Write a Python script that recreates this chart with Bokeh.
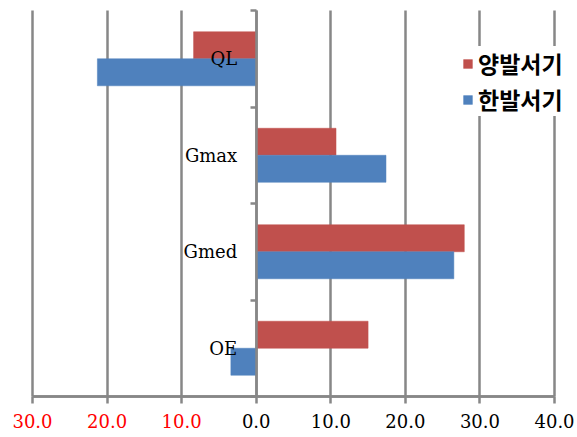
from bokeh.plotting import figure
from bokeh.models import (ColumnDataSource, LinearAxis, FixedTicker, Grid, Range1d,
                          Legend, LegendItem)
from bokeh.transform import dodge
from bokeh.embed import file_html
from bokeh.resources import INLINE

# ---- data ----
categories = ["OE", "Gmed", "Gmax", "QL"]
both_feet = [15.0, 27.9, 10.7, -8.4]      # 양발서기
one_foot = [-3.4, 26.5, 17.4, -21.3]      # 한발서기
series_names = ["양발서기", "한발서기"]
pos_ticks = [0, 10, 20, 30, 40]
neg_ticks = [-30, -20, -10]

RED = "#C0504D"
BLUE = "#4F81BD"
GREY = "#878787"
SERIF = "DejaVu Serif"

idx = list(range(len(categories)))
src = ColumnDataSource(dict(y=idx, both=both_feet, one=one_foot))

x_lo, x_hi = neg_ticks[0], pos_ticks[-1]
y_lo, y_hi = -0.5, len(categories) - 0.5

p = figure(width=577, height=437, output_backend="svg", toolbar_location=None,
           x_axis_location=None, y_axis_location=None,
           x_range=Range1d(-34.29, 43.08), y_range=Range1d(-0.925, 3.604),
           min_border_left=0, min_border_right=0, min_border_top=0, min_border_bottom=0)
p.outline_line_color = None
p.background_fill_color = "white"
for g in list(p.xgrid) + list(p.ygrid):
    g.visible = False

# vertical gridlines, limited to the plot area
grid = Grid(dimension=0, ticker=FixedTicker(ticks=neg_ticks + pos_ticks),
            grid_line_color=GREY, grid_line_width=2.5, cross_bounds=(y_lo, y_hi))
p.add_layout(grid)

bw = 0.28
r1 = p.hbar(y=dodge("y", bw / 2, range=p.y_range), right="both", left=0, height=bw,
            source=src, fill_color=RED, line_color=RED, line_width=0.5)
r2 = p.hbar(y=dodge("y", -bw / 2, range=p.y_range), right="one", left=0, height=bw,
            source=src, fill_color=BLUE, line_color=BLUE, line_width=0.5)

# bottom axes (black positive labels, red negative labels shown as absolute values)
def make_xaxis(ticks, color):
    ax = LinearAxis(ticker=FixedTicker(ticks=ticks),
                    major_label_overrides={t: f"{abs(t):.1f}" for t in ticks},
                    fixed_location=y_lo, bounds=(x_lo, x_hi))
    ax.axis_line_color = GREY
    ax.axis_line_width = 2.5
    ax.major_tick_line_color = GREY
    ax.major_tick_line_width = 2.5
    ax.major_tick_out = 7
    ax.major_tick_in = 0
    ax.minor_tick_line_color = None
    ax.major_label_text_font = SERIF
    ax.major_label_text_font_size = "18px"
    ax.major_label_text_color = color
    ax.major_label_standoff = 11
    return ax

p.add_layout(make_xaxis(pos_ticks, "black"), "below")
p.add_layout(make_xaxis(neg_ticks, "#FF0000"), "below")

# category axis crossing at x = 0
yax = LinearAxis(ticker=FixedTicker(ticks=idx, minor_ticks=[i - 0.5 for i in idx] + [len(idx) - 0.5]),
                 major_label_overrides={i: c for i, c in zip(idx, categories)},
                 fixed_location=0, bounds=(y_lo, y_hi))
yax.axis_line_color = GREY
yax.axis_line_width = 2.5
yax.major_tick_line_color = None
yax.major_tick_out = 0
yax.major_tick_in = 0
yax.minor_tick_line_color = GREY
yax.minor_tick_line_width = 2.5
yax.minor_tick_out = 6
yax.minor_tick_in = 0
yax.major_label_text_font = SERIF
yax.major_label_text_font_size = "18px"
yax.major_label_text_color = "black"
yax.major_label_standoff = 13
p.add_layout(yax, "left")

legend = Legend(items=[LegendItem(label=series_names[0], renderers=[r1]),
                       LegendItem(label=series_names[1], renderers=[r2])],
                location=(462, 321), orientation="vertical")
legend.label_text_font = "Noto Sans CJK KR"
legend.label_text_font_style = "bold"
legend.label_text_font_size = "23px"
legend.label_text_color = "black"
legend.glyph_width = 11
legend.glyph_height = 11
legend.label_height = 25
legend.label_standoff = 5
legend.spacing = 2
legend.padding = 6
legend.margin = 0
legend.border_line_color = None
legend.background_fill_color = "white"
legend.background_fill_alpha = 1.0
p.add_layout(legend, "center")

open("out.html", "w").write(file_html(p, INLINE))
